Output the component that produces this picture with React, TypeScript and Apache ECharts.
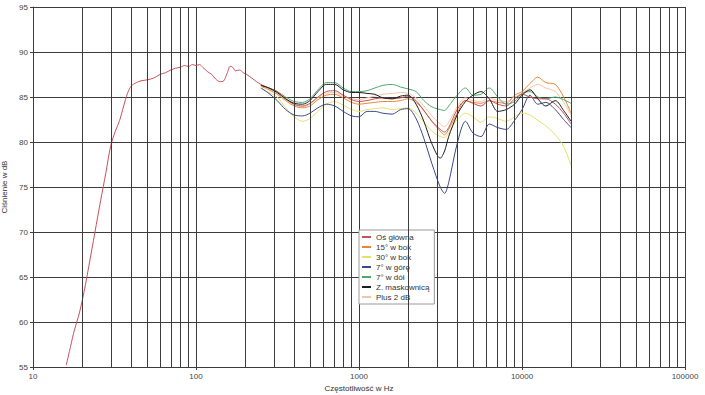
import React, { useEffect, useRef } from "react";
import * as echarts from "echarts";

// Low-frequency part of the main-axis curve (Hz / dB)
const freqLow = [16, 17, 18, 19, 20, 21, 22, 24, 26, 28, 30, 32, 34, 36, 38, 40, 43, 46, 50, 55, 60, 65, 70, 75, 80, 85, 90, 95, 100, 105, 110, 118, 125, 132, 140, 148, 155, 162, 168, 175, 185, 195, 205, 220, 235];
const mainLow = [55.2, 57.3, 59.2, 60.6, 62.3, 64.2, 66.2, 70.0, 73.5, 76.6, 79.6, 81.2, 82.4, 84.0, 85.4, 86.2, 86.6, 86.8, 86.9, 87.1, 87.5, 87.7, 88.0, 88.2, 88.3, 88.5, 88.4, 88.6, 88.5, 88.6, 88.3, 87.8, 87.5, 87.0, 86.7, 86.8, 87.6, 88.4, 88.3, 87.9, 88.0, 87.7, 87.5, 87.1, 86.7];

// Mid/high-frequency measurements (Hz)
const freqMid = [250, 280, 315, 355, 400, 450, 500, 560, 630, 710, 800, 900, 1000, 1120, 1250, 1400, 1600, 1800, 2000, 2240, 2500, 2800, 3150, 3350, 3550, 4000, 4500, 5000, 5600, 6300, 7100, 8000, 9000, 10000, 11200, 12500, 14000, 16000, 18000, 20000];
const mainMid = [86.4, 86.0, 85.6, 84.8, 84.2, 84.0, 84.3, 85.0, 85.6, 85.7, 85.2, 84.7, 84.5, 84.6, 84.8, 84.9, 84.8, 84.9, 85.1, 84.6, 83.5, 82.3, 81.4, 81.1, 81.6, 83.6, 84.6, 84.3, 84.0, 84.6, 84.2, 84.0, 84.8, 85.3, 85.0, 84.8, 84.8, 84.2, 83.2, 82.0];
const side15 = [86.2, 85.8, 85.3, 84.6, 84.0, 83.8, 84.0, 84.7, 85.2, 85.3, 84.9, 84.4, 84.2, 84.3, 84.4, 84.5, 84.5, 84.6, 84.8, 84.4, 83.5, 82.3, 81.2, 80.8, 81.4, 83.2, 84.6, 84.4, 84.3, 84.6, 84.4, 84.3, 85.2, 85.6, 86.5, 87.2, 86.6, 86.4, 85.0, 83.2];
const side30 = [86.0, 85.5, 85.0, 83.8, 82.8, 82.3, 82.6, 83.4, 84.2, 84.5, 84.1, 83.6, 83.4, 83.6, 83.7, 83.8, 83.6, 83.7, 83.8, 83.2, 82.2, 81.2, 80.6, 80.5, 81.0, 82.5, 83.2, 82.8, 82.2, 82.8, 82.6, 82.3, 82.8, 83.2, 83.0, 82.4, 81.8, 80.8, 79.5, 77.4];
const up7 = [86.0, 85.4, 84.6, 83.6, 83.0, 82.9, 83.2, 83.8, 84.2, 84.0, 83.4, 82.9, 82.8, 83.4, 83.4, 83.2, 83.1, 83.6, 83.7, 82.6, 80.4, 77.6, 75.0, 74.3, 75.5, 79.8, 82.3, 81.0, 80.6, 82.0, 81.6, 81.4, 82.4, 83.6, 85.2, 84.2, 84.4, 83.6, 82.5, 81.6];
const down7 = [86.3, 86.0, 85.6, 85.0, 84.5, 84.4, 84.8, 85.8, 86.6, 86.6, 86.0, 85.6, 85.6, 85.7, 86.0, 86.3, 86.4, 86.1, 85.9, 85.6, 84.6, 83.9, 83.6, 83.5, 84.0, 85.2, 86.0, 85.2, 85.3, 86.0, 85.0, 84.2, 84.5, 85.4, 85.6, 85.0, 84.8, 85.0, 84.7, 84.3];
const grille = [86.3, 86.0, 85.5, 84.8, 84.3, 84.2, 84.6, 85.6, 86.4, 86.4, 85.8, 85.5, 85.5, 85.4, 85.3, 84.9, 84.8, 85.1, 85.2, 84.2, 82.3, 79.8, 78.2, 79.0, 80.6, 83.0, 84.5, 85.2, 85.6, 84.8, 83.4, 83.6, 84.2, 85.2, 85.8, 84.8, 84.0, 84.6, 83.5, 82.3];
const plus2 = [86.3, 85.9, 85.4, 84.7, 84.1, 83.9, 84.2, 84.9, 85.4, 85.5, 85.1, 84.8, 84.7, 84.9, 85.1, 85.3, 85.4, 85.5, 85.4, 84.9, 84.0, 82.9, 82.0, 81.7, 82.2, 83.9, 84.9, 84.6, 84.5, 84.9, 84.6, 84.5, 85.0, 85.4, 86.0, 86.4, 86.0, 85.6, 84.4, 83.0];

const seriesNames = ["Oś główna", "15° w bok", "30° w bok", "7° w górę", "7° w dół", "Z. maskownicą", "Plus 2 dB"];
const seriesColors = ["#c8505a", "#e8873a", "#e6df6e", "#3c4a8c", "#4fa86a", "#1e1e1e", "#f2c6a4"];

// Grid frequencies between decades (minor log grid)
const minorGridFreqs = [20, 30, 40, 50, 60, 70, 80, 90, 200, 300, 400, 500, 600, 700, 800, 900, 2000, 3000, 4000, 5000, 6000, 7000, 8000, 9000, 20000, 30000, 40000, 50000, 60000, 70000, 80000, 90000];
const yTicks = [55, 60, 65, 70, 75, 80, 85, 90, 95];

const zip = (xs: number[], ys: number[]) => xs.map((x, i) => [x, ys[i]]);

export default function App() {
  const ref = useRef<HTMLDivElement>(null);
  useEffect(() => {
    if (!ref.current) return;
    const chart = echarts.init(ref.current, null, { renderer: "svg" });
    const gridColor = "#3c3c3c";
    const valuesList = [
      zip(freqLow, mainLow).concat(zip(freqMid, mainMid)),
      zip(freqMid, side15),
      zip(freqMid, side30),
      zip(freqMid, up7),
      zip(freqMid, down7),
      zip(freqMid, grille),
      zip(freqMid, plus2),
    ];
    const drawOrder = [6, 2, 1, 3, 4, 0, 5];
    const series: any[] = [
      {
        type: "line",
        name: "grid",
        data: [[10, 55]],
        showSymbol: false,
        silent: true,
        z: 1,
        lineStyle: { width: 0 },
        markLine: {
          silent: true,
          symbol: ["none", "none"],
          label: { show: false },
          lineStyle: { color: gridColor, width: 1, type: "solid" },
          emphasis: { disabled: true },
          data: minorGridFreqs.map((f) => ({ xAxis: f })),
        },
      },
    ];
    drawOrder.forEach((i) => {
      series.push({
        type: "line",
        name: seriesNames[i],
        data: valuesList[i],
        showSymbol: false,
        smooth: 0.3,
        z: 3,
        color: seriesColors[i],
        lineStyle: { width: 1, color: seriesColors[i] },
      });
    });
    chart.setOption({
      animation: false,
      backgroundColor: "#ffffff",
      textStyle: { fontFamily: "Liberation Sans, Arial, sans-serif" },
      grid: { left: 33, right: 20, top: 7, bottom: 28, containLabel: false, outerBoundsMode: "none" },
      legend: {
        data: seriesNames,
        orient: "vertical",
        left: 359,
        top: 230,
        itemWidth: 9,
        itemHeight: 2,
        itemGap: 2,
        icon: "rect",
        padding: [3, 5, 3, 3],
        backgroundColor: "#ffffff",
        borderColor: "#9a9a9a",
        borderWidth: 1,
        textStyle: { fontSize: 8, color: "#333", padding: [0, 0, 0, 0] },
        selectedMode: false,
      },
      xAxis: {
        type: "log",
        logBase: 10,
        min: 10,
        max: 100000,
        name: "Częstotliwość w Hz",
        nameLocation: "middle",
        nameGap: 12,
        nameTextStyle: { fontSize: 8, color: "#333" },
        axisLine: { show: true, lineStyle: { color: gridColor, width: 1 } },
        axisTick: { show: true, length: 3, lineStyle: { color: gridColor } },
        axisLabel: { fontSize: 8, color: "#444", margin: 5, formatter: (v: number) => String(Math.round(v)) },
        splitLine: { show: true, lineStyle: { color: gridColor, width: 1 } },
      },
      yAxis: {
        type: "value",
        min: yTicks[0],
        max: yTicks[yTicks.length - 1],
        interval: 5,
        name: "Ciśnienie w dB",
        nameLocation: "middle",
        nameGap: 24,
        nameRotate: 90,
        nameTextStyle: { fontSize: 8, color: "#333" },
        axisLine: { show: true, lineStyle: { color: gridColor, width: 1 } },
        axisTick: { show: true, length: 3, lineStyle: { color: gridColor } },
        axisLabel: { fontSize: 8, color: "#444", margin: 5 },
        splitLine: { show: true, lineStyle: { color: gridColor, width: 1 } },
      },
      series,
    });
    return () => chart.dispose();
  }, []);
  return <div ref={ref} style={{ width: 705, height: 395, position: "absolute", left: 0, top: 0 }} />;
}
